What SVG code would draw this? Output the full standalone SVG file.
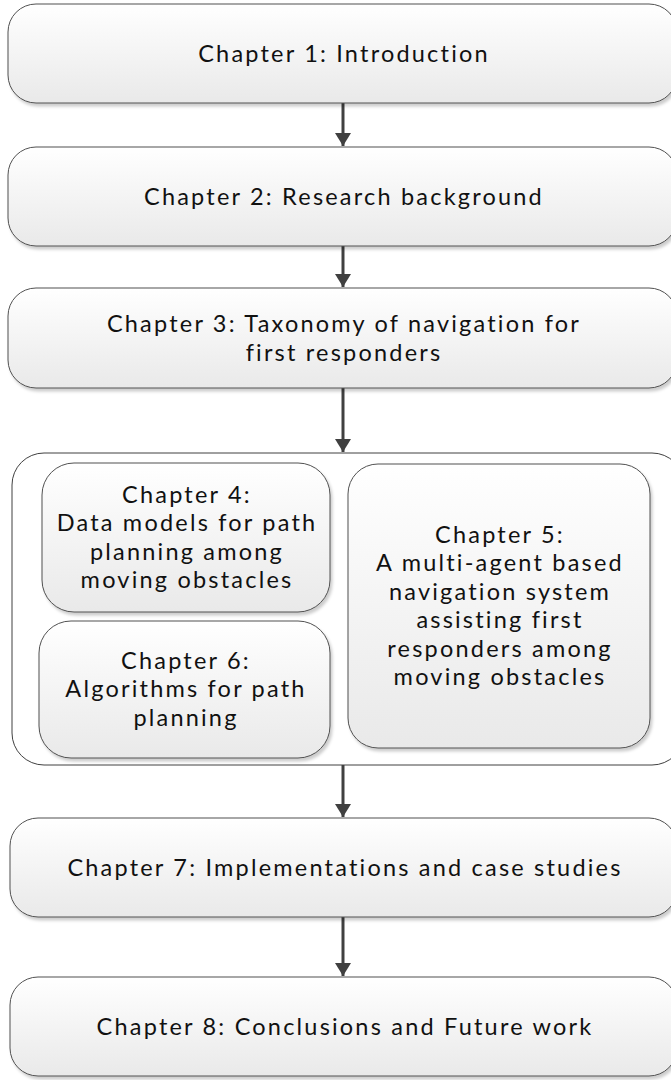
<svg xmlns="http://www.w3.org/2000/svg" width="671" height="1080" viewBox="0 0 671 1080">
  <defs>
    <linearGradient id="boxGrad" x1="0" y1="0" x2="0" y2="1">
      <stop offset="0" stop-color="#ffffff"/>
      <stop offset="1" stop-color="#e9e9e9"/>
    </linearGradient>
    <filter id="shadow" x="-5%" y="-10%" width="115%" height="130%">
      <feDropShadow dx="2" dy="3" stdDeviation="1.5" flood-color="#000000" flood-opacity="0.2"/>
    </filter>
    <marker id="arrow" viewBox="0 0 13 16" refX="13" refY="8" markerWidth="13" markerHeight="16" markerUnits="userSpaceOnUse" orient="auto">
      <path d="M0,0 L13,8 L0,16 Z" fill="#404040"/>
    </marker>
  </defs>
  <style>
    .box { fill: url(#boxGrad); stroke: #505050; stroke-width: 1; filter: url(#shadow); }
    .container { fill: #ffffff; stroke: #404040; stroke-width: 1; }
    .lbl { font-family: Lato, "Liberation Sans", sans-serif; font-size: 23.5px; letter-spacing: 2.2px; fill: #111111; text-anchor: middle; }
    .conn { stroke: #404040; stroke-width: 3; fill: none; }
  </style>
  <rect width="671" height="1080" fill="#ffffff"/>

  <g id="connectors">
    <line class="conn" x1="343" y1="103" x2="343" y2="146" marker-end="url(#arrow)"/>
    <line class="conn" x1="343" y1="246" x2="343" y2="287" marker-end="url(#arrow)"/>
    <line class="conn" x1="343" y1="388" x2="343" y2="452" marker-end="url(#arrow)"/>
    <line class="conn" x1="343" y1="765" x2="343" y2="817" marker-end="url(#arrow)"/>
    <line class="conn" x1="343" y1="917" x2="343" y2="976" marker-end="url(#arrow)"/>
  </g>

  <g id="ch1">
    <rect class="box" x="8" y="4" width="669" height="99" rx="28" ry="28"/>
    <text class="lbl" x="344" y="62">Chapter 1: Introduction</text>
  </g>

  <g id="ch2">
    <rect class="box" x="8" y="147" width="669" height="99" rx="28" ry="28"/>
    <text class="lbl" x="344" y="205">Chapter 2: Research background</text>
  </g>

  <g id="ch3">
    <rect class="box" x="8" y="288" width="669" height="100" rx="28" ry="28"/>
    <text class="lbl" x="344" y="332">Chapter 3: Taxonomy of navigation for</text>
    <text class="lbl" x="344" y="360.5">first responders</text>
  </g>

  <g id="group-4-5-6">
    <rect class="container" x="12" y="453" width="672" height="312" rx="32" ry="32"/>
  </g>

  <g id="ch4">
    <rect class="box" x="42" y="463" width="288" height="149" rx="32" ry="32"/>
    <text class="lbl" x="187" y="502.5">Chapter 4:</text>
    <text class="lbl" x="187" y="531">Data models for path</text>
    <text class="lbl" x="187" y="559.5">planning among</text>
    <text class="lbl" x="187" y="588">moving obstacles</text>
  </g>

  <g id="ch5">
    <rect class="box" x="348" y="464" width="302" height="284" rx="30" ry="30"/>
    <text class="lbl" x="500" y="542.5">Chapter 5:</text>
    <text class="lbl" x="500" y="571">A multi-agent based</text>
    <text class="lbl" x="500" y="599.5">navigation system</text>
    <text class="lbl" x="500" y="628">assisting first</text>
    <text class="lbl" x="500" y="656.5">responders among</text>
    <text class="lbl" x="500" y="685">moving obstacles</text>
  </g>

  <g id="ch6">
    <rect class="box" x="39" y="621" width="291" height="137" rx="32" ry="32"/>
    <text class="lbl" x="186" y="668.5">Chapter 6:</text>
    <text class="lbl" x="186" y="697">Algorithms for path</text>
    <text class="lbl" x="186" y="725.5">planning</text>
  </g>

  <g id="ch7">
    <rect class="box" x="10" y="818" width="667" height="99" rx="28" ry="28"/>
    <text class="lbl" x="345" y="876">Chapter 7: Implementations and case studies</text>
  </g>

  <g id="ch8">
    <rect class="box" x="10" y="977" width="667" height="99" rx="28" ry="28"/>
    <text class="lbl" x="345" y="1035">Chapter 8: Conclusions and Future work</text>
  </g>
</svg>
